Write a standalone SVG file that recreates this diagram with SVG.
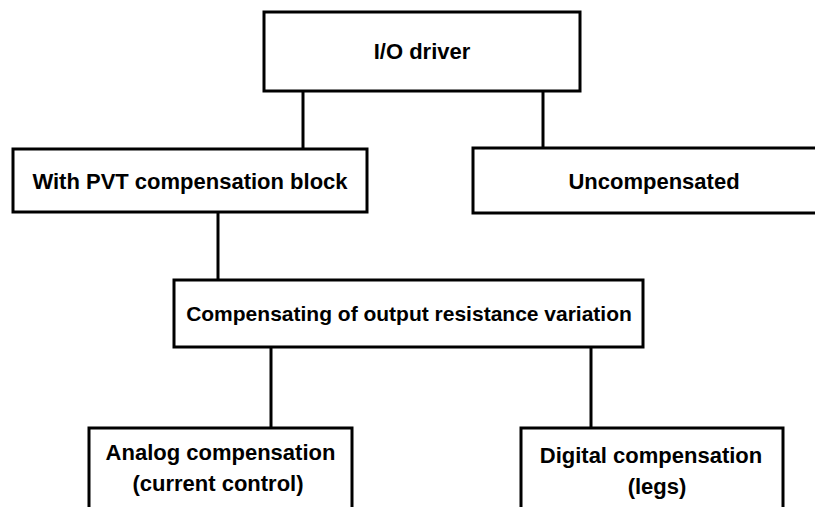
<svg xmlns="http://www.w3.org/2000/svg" width="815" height="507" viewBox="0 0 815 507">
<style>
.box{fill:#fff;stroke:#000;stroke-width:3}
.t{font-family:"Liberation Sans",Arial,sans-serif;font-weight:bold;font-size:22px;fill:#000;text-anchor:middle}
.c{stroke:#000;stroke-width:3;fill:none}
</style>
<rect x="0" y="0" width="815" height="507" fill="#fff"/>
<g id="connectors">
<line class="c" x1="303" y1="91" x2="303" y2="149"/>
<line class="c" x1="543" y1="91" x2="543" y2="148"/>
<line class="c" x1="218" y1="212" x2="218" y2="280"/>
<line class="c" x1="271" y1="347" x2="271" y2="428"/>
<line class="c" x1="591" y1="347" x2="591" y2="428"/>
</g>
<g id="io-driver">
<rect class="box" x="264" y="12" width="316" height="79"/>
<text class="t" x="422" y="59">I/O driver</text>
</g>
<g id="pvt">
<rect class="box" x="13" y="149" width="354" height="63"/>
<text class="t" x="190" y="189">With PVT compensation block</text>
</g>
<g id="uncompensated">
<rect class="box" x="473" y="148" width="350" height="65"/>
<text class="t" x="654" y="189">Uncompensated</text>
</g>
<g id="compensating">
<rect class="box" x="174" y="280" width="469" height="67"/>
<text class="t" x="409" y="321" style="font-size:21px">Compensating of output resistance variation</text>
</g>
<g id="analog">
<rect class="box" x="89" y="428" width="263" height="100"/>
<text class="t" x="220.5" y="460">Analog compensation</text>
<text class="t" x="218" y="491">(current control)</text>
</g>
<g id="digital">
<rect class="box" x="521" y="428" width="262" height="100"/>
<text class="t" x="651" y="463">Digital compensation</text>
<text class="t" x="657" y="494">(legs)</text>
</g>
</svg>
